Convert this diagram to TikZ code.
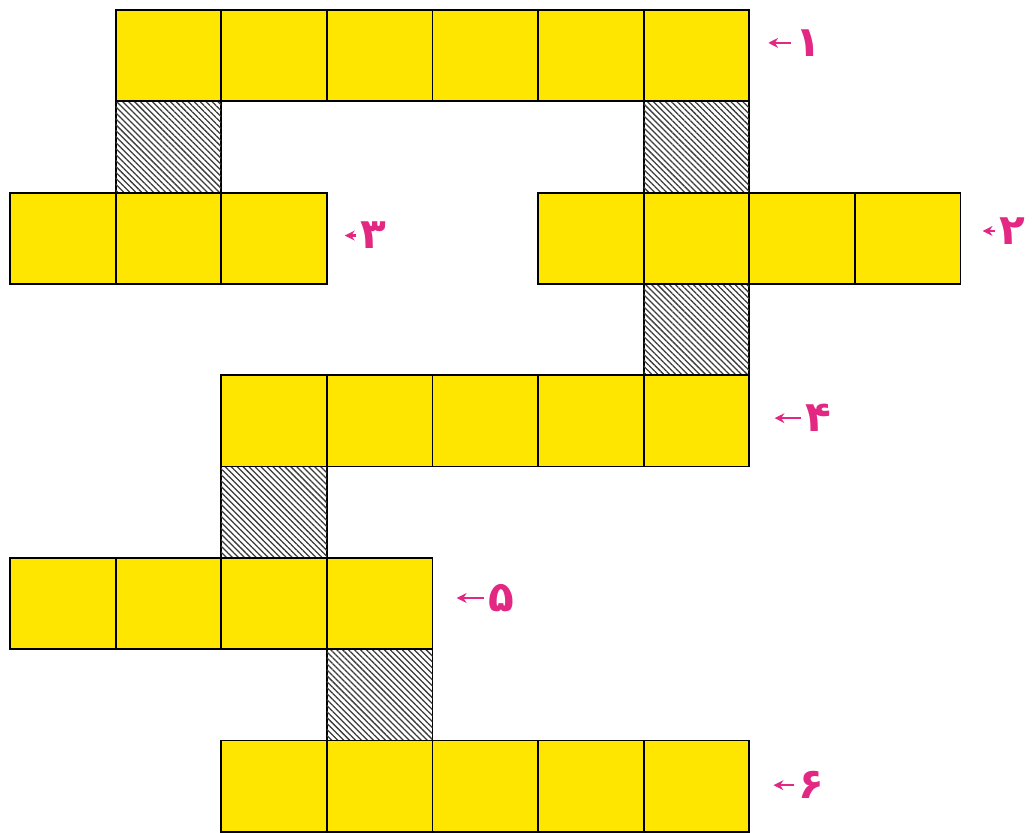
\documentclass[tikz,border=0pt]{standalone}
\usepackage{fontspec}
\newfontfamily\persianfont[Script=Arabic]{DejaVu Sans}
\definecolor{cellyellow}{HTML}{FFE600}
\definecolor{labelpink}{HTML}{E22882}
\definecolor{hatchgray}{HTML}{3A3A3A}
\usepackage{tikz}
\usetikzlibrary{arrows.meta, patterns.meta}

\begin{document}
\begin{tikzpicture}[
  x=2.64cm, y=-2.2825cm,
  cell/.style={fill=cellyellow, draw=black, line width=1.3pt},
  hatch/.style={fill=white, draw=black, line width=1.3pt,
    postaction={pattern={Lines[angle=-45, distance=3pt, line width=0.9pt]}, pattern color=hatchgray}},
  digit/.style={font=\persianfont\bfseries\fontsize{30}{34}\selectfont, text=labelpink, inner sep=3pt, anchor=west},
  pointer/.style={labelpink, line width=1.8pt, -{Stealth[length=7pt, width=7pt]}},
]
\useasboundingbox (-0.0947,-0.1095) rectangle (9.706,9.003);

% Hatched links
\foreach \c/\r in {1/1, 6/1, 6/3, 2/5, 3/7} {
  \draw[hatch] (\c,\r) rectangle ++(1,1);
}

% Strips
\foreach \c in {1,...,6} \draw[cell] (\c,0) rectangle ++(1,1);
\foreach \c in {0,...,2} \draw[cell] (\c,2) rectangle ++(1,1);
\foreach \c in {5,...,8} \draw[cell] (\c,2) rectangle ++(1,1);
\foreach \c in {2,...,6} \draw[cell] (\c,4) rectangle ++(1,1);
\foreach \c in {0,...,3} \draw[cell] (\c,6) rectangle ++(1,1);
\foreach \c in {2,...,6} \draw[cell] (\c,8) rectangle ++(1,1);

% Labels
\node[digit] (lab1) at (7.40,0.36) {۱};
\node[digit] (lab2) at (9.33,2.42) {۲};
\node[digit] (lab3) at (3.28,2.47) {۳};
\node[digit] (lab4) at (7.49,4.47) {۴};
\node[digit] (lab5) at (4.49,6.44) {۵};
\node[digit] (lab6) at (7.42,8.49) {۶};

\coordinate (tip1) at (7.18,0.36);
\coordinate (tip2) at (9.21,2.42);
\coordinate (tip3) at (3.17,2.47);
\coordinate (tip4) at (7.24,4.47);
\coordinate (tip5) at (4.23,6.44);
\coordinate (tip6) at (7.23,8.49);

\foreach \n in {1,...,6} {
  \draw[pointer] (lab\n.west) -- (tip\n);
}
\end{tikzpicture}
\end{document}
